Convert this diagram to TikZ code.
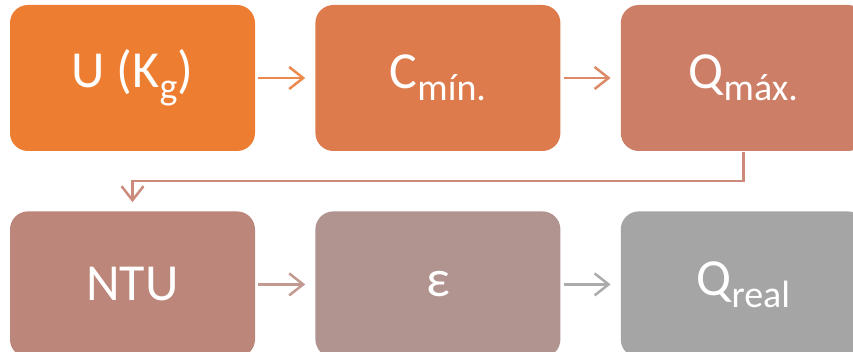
\documentclass[tikz,border=0pt]{standalone}
\usepackage{fontspec}
\setmainfont{Carlito}
\usetikzlibrary{arrows.meta,positioning}

\definecolor{boxA}{HTML}{ED7D31}
\definecolor{boxB}{HTML}{DE7B4C}
\definecolor{boxC}{HTML}{CD7E66}
\definecolor{boxD}{HTML}{BD867A}
\definecolor{boxE}{HTML}{B19390}
\definecolor{boxF}{HTML}{A5A5A5}
\definecolor{arrA}{HTML}{EB8A4C}
\definecolor{arrB}{HTML}{DC8A68}
\definecolor{arrC}{HTML}{CC8B7A}
\definecolor{arrD}{HTML}{C39A92}
\definecolor{arrE}{HTML}{ABABAB}

% lowered, smaller text for the indices
\newcommand{\idx}[1]{\raisebox{-12pt}{\fontsize{38}{42}\selectfont #1}}

\begin{document}
\begin{tikzpicture}[x=1pt,y=1pt,node distance=60pt,
    stepbox/.style={rectangle, rounded corners=18pt, minimum width=245pt,
        minimum height=146pt, inner sep=0pt, text=white,
        font=\fontsize{52}{60}\selectfont},
    flow/.style={line width=2.5pt, -{Straight Barb[length=14pt,width=22pt,line width=2.5pt]}}]
\useasboundingbox (0,0) rectangle (853,-352);

\node [stepbox, fill=boxA] (u) at (132.5,-78) {U (K\idx{g})};
\node [stepbox, fill=boxB, right=of u] (cmin) {C\idx{mín.}};
\node [stepbox, fill=boxC, right=of cmin] (qmax) {Q\idx{máx.}};
\node [stepbox, fill=boxD, below=of u] (ntu) {NTU};
\node [stepbox, fill=boxE, right=of ntu] (eps) {ε};
\node [stepbox, fill=boxF, right=of eps] (qreal) {Q\idx{real}};

\draw [flow, arrA] ([xshift=3pt]u.east) -- ([xshift=-10pt]cmin.west);
\draw [flow, arrB] ([xshift=3pt]cmin.east) -- ([xshift=-10pt]qmax.west);
\draw [flow, arrC] ([yshift=-1pt]qmax.south) |- ++(0,-29)
    -| ([yshift=9pt]ntu.north);
\draw [flow, arrD] ([xshift=3pt]ntu.east) -- ([xshift=-10pt]eps.west);
\draw [flow, arrE] ([xshift=3pt]eps.east) -- ([xshift=-10pt]qreal.west);
\end{tikzpicture}
\end{document}
